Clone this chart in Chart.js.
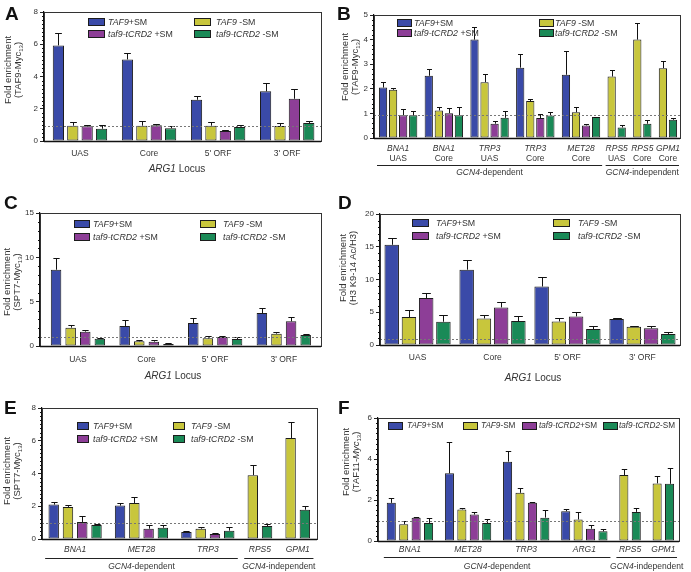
<!DOCTYPE html>
<html>
<head>
<meta charset="utf-8">
<title>Fold enrichment panels</title>
<script src="https://cdn.jsdelivr.net/npm/chart.js@4.4.1/dist/chart.umd.min.js"></script>
<style>
  body { margin: 0; background: #fff; font-family: "Liberation Sans", Arial, sans-serif; color: #222; }
  #fig { position: relative; width: 691px; height: 572px; overflow: hidden; }
  #fig canvas { position: absolute; z-index: 1; }
  .letter { position: absolute; z-index: 2; font-weight: bold; font-size: 19px; line-height: 19px; color: #111; }
  .ytitle { position: absolute; z-index: 2; transform: translate(-50%, -50%) rotate(-90deg); white-space: nowrap; text-align: center; font-size: 9.5px; line-height: 10px; color: #333; }
  .ytitle sub { font-size: 6px; line-height: 0; vertical-align: -2px; }
  .xtitle { position: absolute; z-index: 2; transform: translate(-50%, -50%); white-space: nowrap; font-size: 10px; color: #333; }
  .key { position: absolute; z-index: 2; white-space: nowrap; font-size: 8.8px; line-height: 10px; height: 10px; color: #333; }
  .key.tight { font-size: 8.2px; }
  .swatch { position: absolute; z-index: 2; height: 6px; border: 1px solid #1c1c1c; }
</style>
</head>
<body>
<div id="fig"></div>
<script>
const FONT = '"Liberation Sans", Arial, sans-serif';

// series, in the order the bars sit inside each group
const seriesGene = ["TAF9", "TAF9", "taf9-tCRD2", "taf9-tCRD2"];
const seriesTag = ["+SM", " -SM", " +SM", " -SM"];
const seriesTagTight = ["+SM", "-SM", "+SM", "-SM"];
const seriesColors = ["#3a4aa8", "#c8c63c", "#8d3e97", "#1a8a57"];

// A: TAF9-Myc13 at ARG1
const aLoci = ["UAS", "Core", "5' ORF", "3' ORF"];
const aTaf9Plus = [5.93, 5.06, 2.56, 3.08];
const aTaf9PlusErr = [0.77, 0.39, 0.21, 0.52];
const aTaf9Minus = [0.95, 0.95, 0.95, 0.93];
const aTaf9MinusErr = [0.23, 0.29, 0.21, 0.19];
const aTcrdPlus = [0.91, 0.97, 0.62, 2.62];
const aTcrdPlusErr = [0.09, 0.1, 0.08, 0.6];
const aTcrdMinus = [0.76, 0.79, 0.87, 1.12];
const aTcrdMinusErr = [0.24, 0.12, 0.12, 0.1];

// B: TAF9-Myc13 at other genes
const bGenes = ["BNA1", "BNA1", "TRP3", "TRP3", "MET28", "RPS5", "RPS5", "GPM1"];
const bRegions = ["UAS", "Core", "UAS", "Core", "Core", "UAS", "Core", "Core"];
const bTaf9Plus = [2.05, 2.53, 4.0, 2.86, 2.57, null, null, null];
const bTaf9PlusErr = [0.22, 0.28, 0.53, 0.56, 0.98, null, null, null];
const bTaf9Minus = [1.96, 1.12, 2.27, 1.5, 1.05, 2.5, 4.0, 2.84];
const bTaf9MinusErr = [0.09, 0.14, 0.34, 0.08, 0.21, 0.28, 0.69, 0.3];
const bTcrdPlus = [0.92, 1.01, 0.58, 0.81, 0.51, null, null, null];
const bTcrdPlusErr = [0.26, 0.19, 0.1, 0.18, 0.06, null, null, null];
const bTcrdMinus = [0.92, 0.92, 0.82, 0.91, 0.85, 0.43, 0.58, 0.74];
const bTcrdMinusErr = [0.16, 0.34, 0.26, 0.14, 0.02, 0.11, 0.14, 0.06];

// C: SPT7-Myc13 at ARG1
const cLoci = ["UAS", "Core", "5' ORF", "3' ORF"];
const cTaf9Plus = [8.6, 2.26, 2.6, 3.72];
const cTaf9PlusErr = [1.3, 0.63, 0.56, 0.6];
const cTaf9Minus = [2.07, 0.53, 0.86, 1.39];
const cTaf9MinusErr = [0.26, 0.11, 0.23, 0.15];
const cTcrdPlus = [1.62, 0.49, 1.02, 2.78];
const cTcrdPlusErr = [0.22, 0.15, 0.15, 0.45];
const cTcrdMinus = [0.83, 0.23, 0.79, 1.24];
const cTcrdMinusErr = [0.11, 0.07, 0.19, 0.08];

// D: H3 K9-14 Ac/H3 at ARG1
const dLoci = ["UAS", "Core", "5' ORF", "3' ORF"];
const dTaf9Plus = [15.3, 11.5, 8.93, 3.96];
const dTaf9PlusErr = [1.1, 1.55, 1.47, 0.1];
const dTaf9Minus = [4.26, 4.06, 3.6, 2.79];
const dTaf9MinusErr = [1.07, 0.51, 0.56, 0.1];
const dTcrdPlus = [7.16, 5.74, 4.37, 2.54];
const dTcrdPlusErr = [0.76, 0.81, 0.66, 0.35];
const dTcrdMinus = [3.55, 3.65, 2.44, 1.68];
const dTcrdMinusErr = [0.97, 0.72, 0.4, 0.25];

// E: SPT7-Myc13 at other genes
const eGenes = ["BNA1", "MET28", "TRP3", "RPS5", "GPM1"];
const eTaf9Plus = [2.1, 2.04, 0.43, null, null];
const eTaf9PlusErr = [0.18, 0.16, 0.08, null, null];
const eTaf9Minus = [1.96, 2.2, 0.63, 3.9, 6.17];
const eTaf9MinusErr = [0.14, 0.37, 0.08, 0.6, 0.98];
const eTcrdPlus = [1.04, 0.63, 0.3, null, null];
const eTcrdPlusErr = [0.34, 0.25, 0.07, null, null];
const eTcrdMinus = [0.86, 0.69, 0.51, 0.79, 1.79];
const eTcrdMinusErr = [0.04, 0.15, 0.22, 0.11, 0.21];

// F: TAF11-Myc13 at other genes
const fGenes = ["BNA1", "MET28", "TRP3", "ARG1", "RPS5", "GPM1"];
const fTaf9Plus = [1.86, 3.3, 3.87, 1.45, null, null];
const fTaf9PlusErr = [0.26, 1.55, 0.54, 0.13, null, null];
const fTaf9Minus = [0.82, 1.54, 2.35, 1.05, 3.22, 2.81];
const fTaf9MinusErr = [0.14, 0.09, 0.22, 0.37, 0.29, 0.36];
const fTcrdPlus = [1.13, 1.29, 1.86, 0.6, null, null];
const fTcrdPlusErr = [0.03, 0.13, 0.04, 0.2, null, null];
const fTcrdMinus = [0.88, 0.88, 1.14, 0.47, 1.42, 2.79];
const fTcrdMinusErr = [0.26, 0.17, 0.36, 0.13, 0.21, 0.76];

const depBrackets = (lastDep, lastAll) => [
  { from: 0, to: lastDep, gene: "GCN4", rest: "-dependent" },
  { from: lastDep + 1, to: lastAll, gene: "GCN4", rest: "-independent" }
];

const panels = [
  {
    letter: "A", letterAt: [5, 3.5], box: [0, 0, 345, 190],
    pad: { left: 20, right: 24, top: 12, bottom: 49 },
    values: [aTaf9Plus, aTaf9Minus, aTcrdPlus, aTcrdMinus],
    errors: [aTaf9PlusErr, aTaf9MinusErr, aTcrdPlusErr, aTcrdMinusErr],
    gap: 0.8, padL: 1, padR: 0.85, barFrac: 0.78,
    yMax: 8, yStep: 2, minor: 0.25, ref: 0.9,
    rows: [{ texts: aLoci, italic: false, offset: 13 }],
    yTitle: ["(TAF9-Myc<sub>13</sub>)", 12.6, 69.5],
    xTitle: [177, 168],
    legend: [[88, 22, 108, 17], [194, 22, 216, 17], [88, 34, 108, 17], [194, 34, 216, 17]], tight: false
  },
  {
    letter: "B", letterAt: [337, 3.5], box: [345, 0, 346, 190],
    pad: { left: 5, right: 11, top: 15, bottom: 52 },
    values: [bTaf9Plus, bTaf9Minus, bTcrdPlus, bTcrdMinus],
    errors: [bTaf9PlusErr, bTaf9MinusErr, bTcrdPlusErr, bTcrdMinusErr],
    gap: 0.55, padL: 0.9, padR: 0.7, barFrac: 0.82,
    yMax: 5, yStep: 1, minor: 0.2, ref: 0.93,
    rows: [{ texts: bGenes, italic: true, offset: 10.3 }, { texts: bRegions, italic: false, offset: 20.3 }],
    brackets: depBrackets(4, 7), bracketLine: 27, bracketText: 35,
    yTitle: ["(TAF9-Myc<sub>13</sub>)", 350, 67],
    legend: [[397, 22.7, 414, 15], [539, 22.7, 555, 15], [397, 33.3, 414, 15], [539, 33.3, 555, 15]], tight: false
  },
  {
    letter: "C", letterAt: [4, 192.5], box: [0, 190, 345, 190],
    pad: { left: 16, right: 24, top: 23, bottom: 34 },
    values: [cTaf9Plus, cTaf9Minus, cTcrdPlus, cTcrdMinus],
    errors: [cTaf9PlusErr, cTaf9MinusErr, cTcrdPlusErr, cTcrdMinusErr],
    gap: 0.7, padL: 1.1, padR: 1.05, barFrac: 0.72,
    yMax: 15, yStep: 5, minor: 1, ref: 1,
    rows: [{ texts: cLoci, italic: false, offset: 14 }],
    yTitle: ["(SPT7-Myc<sub>13</sub>)", 12.3, 282],
    xTitle: [173, 375],
    legend: [[74, 224.3, 93, 16], [200, 224.3, 223, 16], [74, 236.7, 93, 16], [200, 236.7, 223, 16]], tight: false
  },
  {
    letter: "D", letterAt: [338, 192.5], box: [345, 190, 346, 190],
    pad: { left: 11, right: 11, top: 24, bottom: 35 },
    values: [dTaf9Plus, dTaf9Minus, dTcrdPlus, dTcrdMinus],
    errors: [dTaf9PlusErr, dTaf9MinusErr, dTcrdPlusErr, dTcrdMinusErr],
    gap: 0.35, padL: 0.68, padR: 0.68, barFrac: 0.84,
    yMax: 20, yStep: 5, minor: 1, ref: 0.85,
    rows: [{ texts: dLoci, italic: false, offset: 13 }],
    yTitle: ["(H3 K9-14 Ac/H3)", 347.5, 268],
    xTitle: [533, 377],
    legend: [[412, 223, 436, 17], [553, 223, 578, 17], [412, 236, 436, 17], [553, 236, 578, 17]], tight: false
  },
  {
    letter: "E", letterAt: [4, 397.5], box: [0, 380, 345, 192],
    pad: { left: 18, right: 28, top: 28, bottom: 33 },
    values: [eTaf9Plus, eTaf9Minus, eTcrdPlus, eTcrdMinus],
    errors: [eTaf9PlusErr, eTaf9MinusErr, eTcrdPlusErr, eTcrdMinusErr],
    gap: 0.65, padL: 0.82, padR: 0.85, barFrac: 0.73,
    yMax: 8, yStep: 2, minor: 0.25, ref: 1,
    rows: [{ texts: eGenes, italic: true, offset: 11 }],
    brackets: depBrackets(2, 4), bracketLine: 19.3, bracketText: 28,
    yTitle: ["(SPT7-Myc<sub>13</sub>)", 12, 471],
    legend: [[77, 425.7, 93, 12], [173, 425.7, 191, 12], [77, 439.3, 93, 12], [173, 439.3, 191, 12]], tight: false
  },
  {
    letter: "F", letterAt: [338, 397.5], box: [345, 380, 346, 192],
    pad: { left: 9, right: 12, top: 38, bottom: 31 },
    values: [fTaf9Plus, fTaf9Minus, fTcrdPlus, fTcrdMinus],
    errors: [fTaf9PlusErr, fTaf9MinusErr, fTcrdPlusErr, fTcrdMinusErr],
    gap: 0.68, padL: 1.07, padR: 0.76, barFrac: 0.73,
    yMax: 6, yStep: 2, minor: 0.25, ref: 1,
    rows: [{ texts: fGenes, italic: true, offset: 8.6 }],
    brackets: depBrackets(3, 5), bracketLine: 16, bracketText: 26,
    yTitle: ["(TAF11-<i>Myc</i><sub>13</sub>)", 350.5, 462],
    legend: [[388, 425.7, 407, 15], [463, 425.7, 481, 15], [522, 425.7, 539, 15], [603, 425.7, 619, 15]], tight: true
  }
];

// bars of one group sit next to each other, groups are split by a gap
function layoutBars(series, gap) {
  const pos = series.map(() => []);
  const spans = [];
  let x = 0;
  for (let g = 0; g < series[0].length; g++) {
    const first = x;
    series.forEach((vals, s) => {
      if (vals[g] == null) { pos[s].push(null); return; }
      pos[s].push(x);
      x += 1;
    });
    spans.push([first, x - 1]);
    x += gap;
  }
  return { pos, spans, last: x - gap - 1 };
}

const crisp = v => Math.round(v) + 0.5;

const decor = {
  id: "decor",
  afterDatasetsDraw(chart, args, opts) {
    const { ctx, chartArea: area, scales: { x, y } } = chart;
    ctx.save();

    // error bars (upper only)
    ctx.strokeStyle = "#111";
    ctx.lineWidth = 1;
    chart.data.datasets.forEach((ds, i) => {
      chart.getDatasetMeta(i).data.forEach((bar, j) => {
        const pt = ds.data[j];
        if (!pt.err) return;
        const top = crisp(y.getPixelForValue(pt.y + pt.err));
        const bx = crisp(bar.x);
        const half = bar.width * 0.3;
        ctx.beginPath();
        ctx.moveTo(bx, bar.y);
        ctx.lineTo(bx, top);
        ctx.moveTo(bx - half, top);
        ctx.lineTo(bx + half, top);
        ctx.stroke();
      });
    });

    // dotted reference line
    const ry = crisp(y.getPixelForValue(opts.ref));
    ctx.setLineDash([2, 2]);
    ctx.strokeStyle = "#777";
    ctx.beginPath();
    ctx.moveTo(area.left, ry);
    ctx.lineTo(area.right, ry);
    ctx.stroke();
    ctx.setLineDash([]);

    // frame
    ctx.strokeStyle = "#333";
    ctx.lineWidth = 1;
    ctx.strokeRect(crisp(area.left), crisp(area.top), Math.round(area.right - area.left), Math.round(area.bottom - area.top));
    ctx.strokeStyle = "#111";
    ctx.lineWidth = 1.3;
    ctx.beginPath();
    ctx.moveTo(area.left, crisp(area.bottom));
    ctx.lineTo(area.right, crisp(area.bottom));
    ctx.stroke();

    // minor ticks on the value axis
    ctx.lineWidth = 1;
    const n = Math.round(opts.yMax / opts.minor);
    const every = Math.round(opts.yStep / opts.minor);
    ctx.beginPath();
    for (let k = 0; k <= n; k++) {
      if (k % every === 0) continue;
      const ty = crisp(y.getPixelForValue(k * opts.minor));
      ctx.moveTo(area.left - 2, ty);
      ctx.lineTo(area.left, ty);
    }
    ctx.stroke();

    // group labels under the axis
    ctx.fillStyle = "#333";
    ctx.textAlign = "center";
    ctx.textBaseline = "middle";
    const spans = opts.spans;
    opts.rows.forEach(row => {
      ctx.font = (row.italic ? "italic " : "") + "8.5px " + FONT;
      row.texts.forEach((t, g) => {
        const cx = (x.getPixelForValue(spans[g][0]) + x.getPixelForValue(spans[g][1])) / 2;
        ctx.fillText(t, cx, area.bottom + row.offset);
      });
    });

    // GCN4-dependent / -independent brackets
    (opts.brackets || []).forEach(b => {
      const x0 = x.getPixelForValue(spans[b.from][0] - 0.6);
      const x1 = x.getPixelForValue(spans[b.to][1] + 0.6);
      const ly = crisp(area.bottom + opts.bracketLine);
      ctx.strokeStyle = "#222";
      ctx.lineWidth = 1.2;
      ctx.beginPath();
      ctx.moveTo(x0, ly);
      ctx.lineTo(x1, ly);
      ctx.stroke();
      ctx.font = "italic 8.5px " + FONT;
      const w1 = ctx.measureText(b.gene).width;
      ctx.font = "8.5px " + FONT;
      const w2 = ctx.measureText(b.rest).width;
      const sx = (x0 + x1) / 2 - (w1 + w2) / 2;
      const ty = area.bottom + opts.bracketText;
      ctx.textAlign = "left";
      ctx.font = "italic 8.5px " + FONT;
      ctx.fillText(b.gene, sx, ty);
      ctx.font = "8.5px " + FONT;
      ctx.fillText(b.rest, sx + w1, ty);
      ctx.textAlign = "center";
    });

    ctx.restore();
  }
};

const fig = document.getElementById("fig");

function addHtml(cls, html, left, top) {
  const el = document.createElement("div");
  el.className = cls;
  el.innerHTML = html;
  el.style.left = left + "px";
  el.style.top = top + "px";
  fig.appendChild(el);
  return el;
}

panels.forEach(p => {
  const { pos, spans, last } = layoutBars(p.values, p.gap);

  const canvas = document.createElement("canvas");
  canvas.width = p.box[2];
  canvas.height = p.box[3];
  canvas.style.left = p.box[0] + "px";
  canvas.style.top = p.box[1] + "px";
  fig.appendChild(canvas);

  const datasets = p.values.map((vals, s) => ({
    label: seriesGene[s] + seriesTag[s],
    data: vals
      .map((v, g) => (v == null ? null : { x: pos[s][g], y: v, err: p.errors[s][g] }))
      .filter(d => d),
    backgroundColor: seriesColors[s],
    borderColor: "#1c1c1c",
    borderWidth: 1,
    borderSkipped: false,
    grouped: false,
    categoryPercentage: 1,
    barPercentage: p.barFrac
  }));

  new Chart(canvas.getContext("2d"), {
    type: "bar",
    data: { datasets },
    options: {
      responsive: false,
      animation: false,
      devicePixelRatio: 1,
      layout: { padding: p.pad },
      plugins: {
        legend: { display: false },
        tooltip: { enabled: false },
        decor: {
          ref: p.ref, yMax: p.yMax, yStep: p.yStep, minor: p.minor,
          spans, rows: p.rows, brackets: p.brackets,
          bracketLine: p.bracketLine, bracketText: p.bracketText
        }
      },
      scales: {
        x: {
          type: "linear",
          display: false,
          bounds: "data",
          min: -p.padL,
          max: last + p.padR,
          afterBuildTicks: s => { s.ticks = []; }
        },
        y: {
          min: 0,
          max: p.yMax,
          ticks: { stepSize: p.yStep, color: "#333", padding: 2, font: { family: FONT, size: 8 } },
          grid: { drawOnChartArea: false, drawTicks: true, tickLength: 4, color: "#222" },
          border: { color: "#111", width: 1.2 },
          afterFit: s => { s.width = 24; }
        }
      }
    },
    plugins: [decor]
  });

  // panel letter, axis titles, legend
  addHtml("letter", p.letter, p.letterAt[0], p.letterAt[1]);
  addHtml("ytitle", "Fold enrichment<br>" + p.yTitle[0], p.yTitle[1], p.yTitle[2]);
  if (p.xTitle) addHtml("xtitle", "<i>ARG1</i> Locus", p.xTitle[0], p.xTitle[1]);
  p.legend.forEach(([sx, ry, tx, w], s) => {
    const sw = addHtml("swatch", "", sx, ry - 4);
    sw.style.width = (w - 2) + "px";
    sw.style.background = seriesColors[s];
    const tag = p.tight ? seriesTagTight[s] : seriesTag[s];
    addHtml(p.tight ? "key tight" : "key", "<i>" + seriesGene[s] + "</i>" + tag.replace(" ", "&nbsp;"), tx, ry - 5);
  });
});
</script>
</body>
</html>
